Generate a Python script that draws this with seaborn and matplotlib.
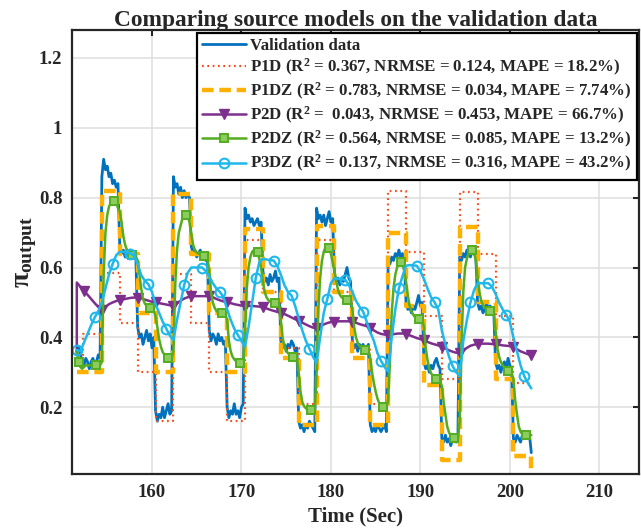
import numpy as np
import pandas as pd
import matplotlib
matplotlib.use("Agg")
import matplotlib.pyplot as plt
import seaborn as sns

# ---------------- data ----------------
T0 = 151.6          # first sample time (s)
DT_FINE = 0.2       # sample spacing of validation / P2DZ
DT_COARSE = 0.4     # sample spacing of P2D / P3DZ

validation = [
    0.36, 0.37, 0.35, 0.33, 0.32, 0.34, 0.33, 0.31, 0.33, 0.34, 0.32, 0.33, 0.35, 0.34,
    0.86, 0.91, 0.88, 0.89, 0.86, 0.87, 0.84, 0.85, 0.83, 0.84,
    0.66, 0.64, 0.65, 0.63, 0.65, 0.64, 0.65, 0.63, 0.64, 0.63,
    0.43, 0.40, 0.41, 0.38, 0.40, 0.42, 0.39, 0.41, 0.37, 0.40,
    0.19, 0.16, 0.18, 0.17, 0.20, 0.17, 0.19, 0.21, 0.18, 0.19,
    0.86, 0.83, 0.84, 0.81, 0.83, 0.80, 0.82, 0.80, 0.81, 0.80,
    0.66, 0.64, 0.65, 0.63, 0.64, 0.65, 0.63, 0.64, 0.62, 0.63,
    0.42, 0.39, 0.41, 0.40, 0.38, 0.41, 0.39, 0.40, 0.38, 0.39,
    0.20, 0.17, 0.19, 0.18, 0.21, 0.18, 0.19, 0.17, 0.20, 0.21,
    0.77, 0.74, 0.75, 0.73, 0.74, 0.72, 0.73, 0.74, 0.72, 0.73,
    0.59, 0.56, 0.57, 0.55, 0.58, 0.56, 0.57, 0.59, 0.56, 0.57,
    0.39, 0.37, 0.38, 0.36, 0.38, 0.37, 0.39, 0.38, 0.36, 0.37,
    0.16, 0.14, 0.15, 0.13, 0.15, 0.14, 0.16, 0.15, 0.14, 0.13,
    0.77, 0.74, 0.75, 0.73, 0.75, 0.72, 0.74, 0.76, 0.73, 0.74,
    0.58, 0.56, 0.57, 0.55, 0.57, 0.56, 0.58, 0.60, 0.57, 0.56,
    0.39, 0.37, 0.38, 0.36, 0.38, 0.37, 0.38, 0.36, 0.37, 0.38,
    0.15, 0.13, 0.14, 0.13, 0.15, 0.14, 0.13, 0.14, 0.15, 0.13,
    0.62, 0.61, 0.63, 0.62, 0.64, 0.63, 0.65, 0.63, 0.64, 0.62,
    0.50, 0.48, 0.49, 0.47, 0.49, 0.48, 0.50, 0.52, 0.49, 0.50,
    0.33, 0.31, 0.32, 0.30, 0.32, 0.31, 0.33, 0.34, 0.32, 0.31,
    0.11, 0.10, 0.12, 0.10, 0.11, 0.09, 0.11, 0.12, 0.10, 0.11,
    0.63, 0.62, 0.64, 0.63, 0.65, 0.64, 0.63, 0.65, 0.64, 0.63,
    0.50, 0.48, 0.49, 0.47, 0.48, 0.50, 0.48, 0.49, 0.47, 0.48,
    0.33, 0.31, 0.32, 0.30, 0.32, 0.33, 0.31, 0.34, 0.32, 0.31,
    0.11, 0.10, 0.12, 0.11, 0.10, 0.12, 0.11, 0.12, 0.11, 0.12,
    0.07,
]

p2dz = [
    0.36, 0.33, 0.315, 0.31, 0.315, 0.32, 0.32, 0.32, 0.32, 0.32, 0.32, 0.32, 0.32, 0.32,
    0.33, 0.58, 0.70, 0.75, 0.775, 0.785, 0.79, 0.79, 0.785, 0.77,
    0.76, 0.73, 0.69, 0.665, 0.65, 0.645, 0.64, 0.635, 0.633, 0.63,
    0.62, 0.58, 0.54, 0.51, 0.497, 0.49, 0.486, 0.483, 0.48, 0.478,
    0.46, 0.43, 0.395, 0.373, 0.358, 0.35, 0.345, 0.342, 0.34, 0.34,
    0.36, 0.55, 0.65, 0.70, 0.72, 0.74, 0.75, 0.75, 0.745, 0.73,
    0.695, 0.665, 0.65, 0.643, 0.64, 0.637, 0.635, 0.632, 0.63, 0.628,
    0.59, 0.53, 0.50, 0.485, 0.476, 0.472, 0.47, 0.47, 0.468, 0.467,
    0.45, 0.39, 0.36, 0.345, 0.337, 0.332, 0.328, 0.326, 0.325, 0.325,
    0.42, 0.54, 0.60, 0.63, 0.645, 0.65, 0.65, 0.645, 0.625, 0.60,
    0.56, 0.53, 0.515, 0.507, 0.502, 0.50, 0.498, 0.497, 0.496, 0.495,
    0.45, 0.40, 0.375, 0.362, 0.355, 0.35, 0.347, 0.345, 0.344, 0.343,
    0.30, 0.245, 0.215, 0.203, 0.197, 0.194, 0.192, 0.191, 0.19, 0.19,
    0.30, 0.48, 0.57, 0.62, 0.645, 0.658, 0.66, 0.655, 0.64, 0.615,
    0.59, 0.56, 0.535, 0.522, 0.515, 0.511, 0.509, 0.507, 0.506, 0.505,
    0.48, 0.43, 0.40, 0.385, 0.375, 0.37, 0.367, 0.365, 0.364, 0.363,
    0.34, 0.30, 0.27, 0.245, 0.225, 0.212, 0.205, 0.202, 0.20, 0.20,
    0.22, 0.33, 0.47, 0.54, 0.58, 0.60, 0.613, 0.617, 0.61, 0.59,
    0.56, 0.52, 0.49, 0.475, 0.465, 0.458, 0.455, 0.452, 0.45, 0.45,
    0.43, 0.37, 0.335, 0.31, 0.297, 0.29, 0.285, 0.282, 0.279, 0.277,
    0.26, 0.215, 0.18, 0.145, 0.128, 0.118, 0.113, 0.111, 0.11, 0.11,
    0.16, 0.38, 0.53, 0.60, 0.625, 0.64, 0.648, 0.65, 0.645, 0.62,
    0.57, 0.53, 0.505, 0.492, 0.485, 0.48, 0.477, 0.475, 0.474, 0.473,
    0.42, 0.37, 0.345, 0.33, 0.32, 0.313, 0.308, 0.304, 0.30, 0.298,
    0.28, 0.22, 0.18, 0.145, 0.13, 0.123, 0.12, 0.12, 0.12, 0.12,
    0.12,
]

p3dz = [
    0.364, 0.36, 0.385, 0.41, 0.435, 0.457, 0.475, 0.50, 0.54, 0.58,
    0.61, 0.635, 0.645, 0.645, 0.643, 0.64, 0.635, 0.61, 0.578, 0.562,
    0.552, 0.53, 0.495, 0.47, 0.445, 0.425, 0.405, 0.392, 0.45, 0.50,
    0.55, 0.585, 0.60, 0.60, 0.60, 0.60, 0.59, 0.575, 0.555, 0.54,
    0.53, 0.515, 0.48, 0.45, 0.425, 0.407, 0.39, 0.373, 0.43, 0.50,
    0.57, 0.615, 0.625, 0.623, 0.621, 0.62, 0.605, 0.58, 0.55, 0.53,
    0.52, 0.49, 0.455, 0.42, 0.39, 0.368, 0.345, 0.326, 0.40, 0.47,
    0.51, 0.555, 0.569, 0.568, 0.566, 0.565, 0.55, 0.53, 0.505, 0.488,
    0.474, 0.445, 0.415, 0.39, 0.355, 0.333, 0.315, 0.302, 0.40, 0.48,
    0.54, 0.575, 0.605, 0.607, 0.606, 0.605, 0.59, 0.567, 0.54, 0.515,
    0.50, 0.48, 0.42, 0.38, 0.345, 0.318, 0.30, 0.29, 0.39, 0.45,
    0.50, 0.535, 0.555, 0.555, 0.555, 0.555, 0.545, 0.525, 0.50, 0.48,
    0.465, 0.445, 0.40, 0.36, 0.32, 0.29, 0.27, 0.254,
]

p2d_start = 0.35
p2d = [
    0.557, 0.545, 0.533, 0.522, 0.51, 0.498, 0.487, 0.479, 0.487, 0.495,
    0.50, 0.504, 0.507, 0.509, 0.511, 0.513, 0.514, 0.514, 0.512, 0.508,
    0.505, 0.502, 0.50, 0.498, 0.496, 0.494, 0.492, 0.49, 0.497, 0.505,
    0.511, 0.515, 0.517, 0.518, 0.518, 0.518, 0.518, 0.517, 0.515, 0.51,
    0.506, 0.503, 0.50, 0.498, 0.495, 0.493, 0.491, 0.49, 0.49, 0.49,
    0.489, 0.488, 0.486, 0.483, 0.479, 0.476, 0.473, 0.471, 0.467, 0.462,
    0.457, 0.452, 0.448, 0.442, 0.437, 0.432, 0.428, 0.426, 0.432, 0.437,
    0.441, 0.444, 0.445, 0.446, 0.446, 0.446, 0.446, 0.445, 0.442, 0.438,
    0.435, 0.432, 0.428, 0.42, 0.414, 0.41, 0.408, 0.407, 0.408, 0.41,
    0.411, 0.411, 0.41, 0.406, 0.402, 0.398, 0.395, 0.392, 0.387, 0.383,
    0.38, 0.377, 0.373, 0.368, 0.363, 0.359, 0.356, 0.355, 0.362, 0.37,
    0.376, 0.379, 0.381, 0.382, 0.382, 0.382, 0.381, 0.38, 0.379, 0.377,
    0.376, 0.375, 0.372, 0.366, 0.36, 0.356, 0.352, 0.349,
]

# piecewise-constant models: switching times and levels
step_times = [151.6, 154.4, 156.4, 158.4, 160.4, 162.4, 164.4, 166.4, 168.4,
              170.4, 172.4, 174.4, 176.4, 178.4, 180.4, 182.4, 184.4, 186.4,
              188.4, 190.4, 192.4, 194.4, 196.4, 198.4, 200.4, 202.4]
p1dz_levels = [0.30, 0.82, 0.64, 0.47, 0.30, 0.81, 0.64, 0.47, 0.30,
               0.71, 0.53, 0.34, 0.15, 0.72, 0.53, 0.34, 0.15,
               0.70, 0.49, 0.265, 0.05, 0.715, 0.50, 0.28, 0.06, 0.02]
p1d_times = [151.6, 152.3] + step_times[1:]
p1d_levels = [0.35, 0.41, 0.585, 0.44, 0.30, 0.16, 0.58, 0.44, 0.30, 0.16,
              0.68, 0.53, 0.37, 0.21, 0.68, 0.53, 0.37, 0.21,
              0.82, 0.643, 0.46, 0.28, 0.817, 0.64, 0.46, 0.27, 0.27]

labels = [
    "Validation data",
    "P1D (R$^2$ = 0.367, NRMSE = 0.124, MAPE = 18.2%)",
    "P1DZ (R$^2$ = 0.783, NRMSE = 0.034, MAPE = 7.74%)",
    "P2D (R$^2$ =  0.043, NRMSE = 0.453, MAPE = 66.7%)",
    "P2DZ (R$^2$ = 0.564, NRMSE = 0.085, MAPE = 13.2%)",
    "P3DZ (R$^2$ = 0.137, NRMSE = 0.316, MAPE = 43.2%)",
]
x_ticks = [160, 170, 180, 190, 200, 210]
y_ticks = [0.2, 0.4, 0.6, 0.8, 1.0, 1.2]
y_tick_labels = ["0.2", "0.4", "0.6", "0.8", "1", "1.2"]

# ---------------- styling ----------------
sns.set_theme(style="white")
plt.rcParams["font.family"] = ["Liberation Serif", "DejaVu Serif"]
plt.rcParams["font.weight"] = "bold"
plt.rcParams["mathtext.fontset"] = "custom"
plt.rcParams["mathtext.rm"] = "Liberation Serif:bold"
plt.rcParams["mathtext.it"] = "Liberation Serif:bold"
plt.rcParams["mathtext.bf"] = "Liberation Serif:bold"

C_BLUE = "#0072BD"
C_RED = "#F5501E"
C_ORANGE = "#FFB000"
C_PURPLE = "#7E2F8E"
C_GREEN = "#53AD1F"
C_CYAN = "#1EB8EA"

t_fine = np.round(T0 + DT_FINE * np.arange(len(validation)), 2)
t_green = np.round(T0 + DT_FINE * np.arange(len(p2dz)), 2)
t_cyan = np.round(T0 + DT_COARSE * np.arange(len(p3dz)), 2)
t_purple = np.concatenate([[T0], np.round(T0 + DT_COARSE * np.arange(len(p2d)), 2)])
v_purple = [p2d_start] + p2d

fig = plt.figure(figsize=(6.41, 5.32), dpi=100)
ax = fig.add_axes([0.1123, 0.1085, 0.8850, 0.8351])

common = dict(ax=ax, estimator=None, sort=False)

sns.lineplot(x=t_fine, y=validation, color=C_BLUE, lw=2.0, label=labels[0], **common)
sns.lineplot(x=p1d_times, y=p1d_levels, color=C_RED, lw=1.6,
             linestyle=(0, (0.8, 1.6)), drawstyle="steps-post", label=labels[1], **common)
sns.lineplot(x=step_times, y=p1dz_levels, color=C_ORANGE, lw=3.2,
             linestyle=(0, (2.6, 1.3)), drawstyle="steps-post", label=labels[2], **common)
sns.lineplot(x=t_purple, y=v_purple, color=C_PURPLE, lw=1.8, marker="v",
             markersize=7, markerfacecolor=C_PURPLE, markeredgecolor=C_PURPLE,
             markeredgewidth=1.0, markevery=(3, 5), label=labels[3], **common)
sns.lineplot(x=t_green, y=p2dz, color=C_GREEN, lw=1.8, marker="s",
             markersize=5.5, markerfacecolor="#8CCB5E", markeredgecolor=C_GREEN,
             markeredgewidth=1.4, markevery=(1, 10), label=labels[4], **common)
sns.lineplot(x=t_cyan, y=p3dz, color=C_CYAN, lw=1.8, marker="o",
             markersize=7, markerfacecolor="none", markeredgecolor=C_CYAN,
             markeredgewidth=1.5, markevery=(0, 5), label=labels[5], **common)

ax.set_xlim(151.06, 214.47)
ax.set_ylim(0.008, 1.28)
ax.set_xticks(x_ticks)
ax.set_xticklabels([str(v) for v in x_ticks])
ax.set_yticks(y_ticks)
ax.set_yticklabels(y_tick_labels)
ax.grid(True, color="#DEDEDE", lw=1.1)
ax.set_axisbelow(True)
for s in ax.spines.values():
    s.set_visible(True)
    s.set_color("#262626")
    s.set_linewidth(1.6)
ax.tick_params(direction="in", length=4, width=1.5, top=True, right=True,
               labelsize=13.5, colors="#262626", labelcolor="#262626", pad=7)
for lab in ax.get_xticklabels() + ax.get_yticklabels():
    lab.set_fontweight("bold")

ax.set_title("Comparing source models on the validation data", fontsize=16.8,
             fontweight="bold", pad=3)
ax.set_xlabel("Time (Sec)", fontsize=15, fontweight="bold", labelpad=4)
ax.set_ylabel(r"$\pi_{\mathrm{output}}$", fontsize=20, labelpad=0)

handles, labs = ax.get_legend_handles_labels()
leg = ax.legend(handles, labs, loc="upper right", bbox_to_anchor=(1.0, 1.0),
                frameon=True, fancybox=False, framealpha=1,
                edgecolor="#000000", borderaxespad=0.15, handlelength=2.6,
                handletextpad=0.25, labelspacing=0.18, borderpad=0.3,
                numpoints=1, prop={"weight": "bold", "size": 12.2})
leg.get_frame().set_linewidth(1.6)

fig.savefig("out.png", dpi=100)
